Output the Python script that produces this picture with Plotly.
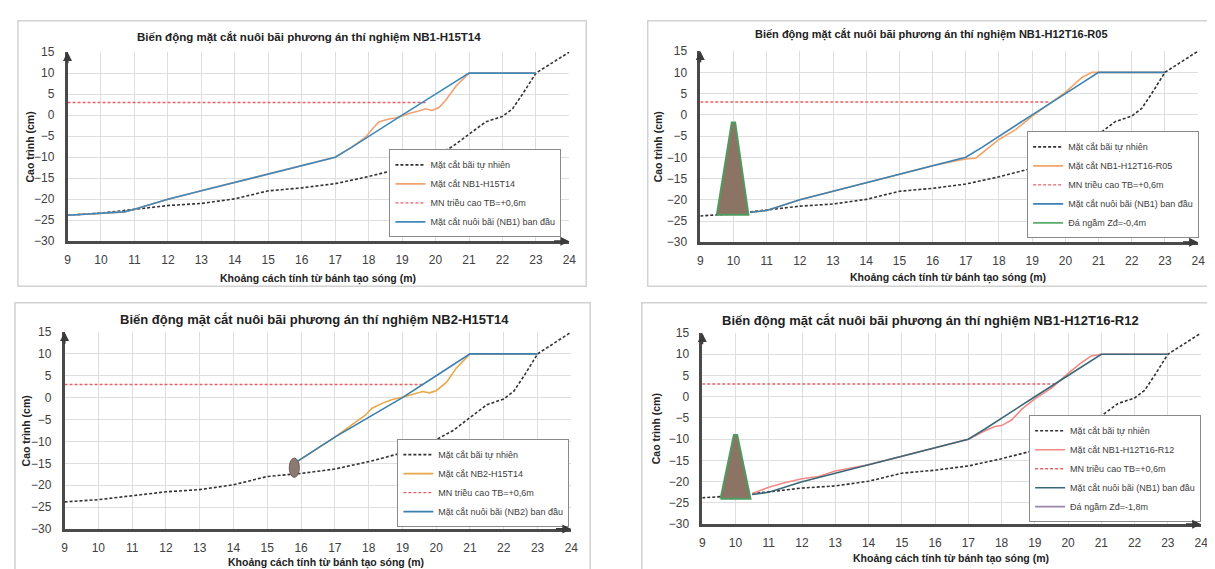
import plotly.graph_objects as go

# ---------------- data ----------------
x_ticks = list(range(9, 25))
y_ticks = list(range(-30, 16, 5))

titles = [
    "Biến động mặt cắt nuôi bãi phương án thí nghiệm NB1-H15T14",
    "Biến động mặt cắt nuôi bãi phương án thí nghiệm NB1-H12T16-R05",
    "Biến động mặt cắt nuôi bãi phương án thí nghiệm NB2-H15T14",
    "Biến động mặt cắt nuôi bãi phương án thí nghiệm NB1-H12T16-R12",
]
x_title = "Khoảng cách tính từ bánh tạo sóng (m)"
y_title = "Cao trình (cm)"

# natural beach profile (same in all tests)
nat_x = [9, 10, 11, 12, 13, 14, 15, 16, 17, 18, 19, 20, 20.5, 21, 21.5, 22, 22.3, 22.6, 22.9, 23, 23.5, 24]
nat_y = [-23.8, -23.3, -22.4, -21.5, -21, -19.9, -18, -17.3, -16.3, -14.6, -12.6, -9.6, -7.5, -4.5, -1.6, -0.3, 1.5, 5, 9, 10, 12.5, 15]

# initial nourished profile NB1
nb1_x = [9, 10, 10.7, 11, 12, 13, 14, 15, 16, 17, 17.5, 18, 19, 20, 21, 23]
nb1_y = [-23.8, -23.3, -23, -22.4, -20, -18, -16, -14, -12, -10, -7.6, -5, 0, 5, 10, 10]
# initial NB1 behind breakwater
nb1r_x = [10.5, 11, 12, 13, 14, 15, 16, 17, 17.5, 18, 19, 20, 21, 23]
nb1r_y = [-23, -22.5, -20, -18, -16, -14, -12, -10, -7.6, -5, 0, 5, 10, 10]
# initial nourished profile NB2
nb2_x = [15.8, 16, 17, 18, 19, 20, 21, 23]
nb2_y = [-15, -14, -9, -4.5, 0, 5, 10, 10]

# measured profiles
m1_x = [9, 10, 10.7, 11, 12, 13, 14, 15, 16, 17, 17.5, 17.9, 18.1, 18.3, 18.6, 18.8, 19, 19.2, 19.5, 19.7, 19.9, 20.1, 20.3, 20.6, 21, 23]
m1_y = [-23.8, -23.3, -23, -22.4, -20, -18, -16, -14, -12, -10, -7.6, -5.3, -3.4, -1.6, -0.9, -0.7, -0.2, 0.4, 1, 1.5, 1.1, 1.8, 3.5, 6.8, 10, 10]
m2_x = [10.5, 11, 12, 13, 14, 15, 16, 16.6, 17, 17.3, 17.8, 18, 18.5, 19, 19.5, 20, 20.5, 20.8, 21, 23]
m2_y = [-23, -22.5, -20, -18, -16, -14, -12, -11, -10.4, -10.2, -7, -5.8, -3.5, -0.3, 2.5, 5.3, 8.8, 10, 10, 10]
m3_x = [15.8, 16, 17, 17.9, 18.1, 18.4, 18.7, 19, 19.3, 19.6, 19.8, 20, 20.3, 20.6, 21, 23]
m3_y = [-15, -14, -9, -4, -2.4, -1.3, -0.4, 0.1, 0.8, 1.4, 1.1, 1.6, 3.5, 6.8, 10, 10]
m4_x = [10.5, 11, 11.5, 12, 12.5, 13, 14, 15, 16, 17, 17.5, 17.8, 18, 18.3, 18.6, 19, 19.5, 20, 20.4, 20.7, 21, 23]
m4_y = [-22.8, -21.3, -20.2, -19.3, -18.8, -17.5, -16, -14, -12, -10, -8, -7, -6.8, -5.5, -3, -0.5, 2, 5.5, 8, 9.6, 10, 10]

# mean high tide level
mn_y = 3
mn_end = [19.7, 19.5, 19.6, 19.6]

# submerged breakwaters
bw2_x = [9.5, 9.95, 10.05, 10.45, 9.5]
bw2_y = [-23.5, -1.8, -1.8, -23.5, -23.5]
bw4_x = [9.55, 9.95, 10.05, 10.45, 9.55]
bw4_y = [-24, -9, -9, -24, -24]
# NB2 toe structure (oval)
oval_x = [15.65, 15.95]
oval_y = [-18.2, -13.8]

leg_names = [
    ["Mặt cắt bãi tự nhiên", "Mặt cắt NB1-H15T14", "MN triều cao TB=+0,6m", "Mặt cắt nuôi bãi (NB1) ban đầu"],
    ["Mặt cắt bãi tự nhiên", "Mặt cắt NB1-H12T16-R05", "MN triều cao TB=+0,6m", "Mặt cắt nuôi bãi (NB1) ban đầu", "Đá ngầm Zđ=-0,4m"],
    ["Mặt cắt bãi tự nhiên", "Mặt cắt NB2-H15T14", "MN triều cao TB=+0,6m", "Mặt cắt nuôi bãi (NB2) ban đầu"],
    ["Mặt cắt bãi tự nhiên", "Mặt cắt NB1-H12T16-R12", "MN triều cao TB=+0,6m", "Mặt cắt nuôi bãi (NB1) ban đầu", "Đá ngầm Zđ=-1,8m"],
]

# ---------------- layout geometry (pixels) ----------------
W, H = 1215, 569
def PX(v): return v / W
def PY(v): return 1 - v / H

panels = [
    dict(x0=57, x1=563, y0=38, y1=232, box=(7, 6, 580, 278), title=(300, 23, 11.5), xt=(310, 270), yt=(19, 135),
         leg=(555, 228)),
    dict(x0=695, x1=1197, y0=37, y1=233, box=(642, 6, 1212, 278), title=(928, 20, 11), xt=(945, 269), yt=(652, 135),
         leg=(1198, 229)),
    dict(x0=54, x1=565, y0=325, y1=527, box=(4, 295, 584, 580), title=(306, 312, 13), xt=(318, 561), yt=(15, 426),
         leg=(563, 525)),
    dict(x0=697, x1=1200, y0=326, y1=522, box=(636, 295, 1212, 580), title=(927, 313, 13), xt=(948, 557), yt=(650, 424),
         leg=(1200, 520)),
]

FONT = "Liberation Sans, Arial, sans-serif"
c_nat = "#333333"
c_mn = "#e8606a"
meas_colors = ["#f2a072", "#f4a468", "#e8a84a", "#f08a86"]
init_colors = ["#3f88b8", "#3a82b4", "#3b7fae", "#3a6878"]
bw_leg_colors = [None, "#5aaa6a", None, "#9a86a8"]

fig = go.Figure()
meas = [(m1_x, m1_y), (m2_x, m2_y), (m3_x, m3_y), (m4_x, m4_y)]
inits = [(nb1_x, nb1_y), (nb1r_x, nb1r_y), (nb2_x, nb2_y), (nb1r_x, nb1r_y)]
bws = [None, (bw2_x, bw2_y), None, (bw4_x, bw4_y)]

annotations = []
shapes = []
for i, p in enumerate(panels):
    k = i + 1
    xa = "x" if k == 1 else f"x{k}"
    ya = "y" if k == 1 else f"y{k}"
    lg = "legend" if k == 1 else f"legend{k}"
    names = leg_names[i]
    fig.add_trace(go.Scatter(x=nat_x, y=nat_y, mode="lines", name=names[0], xaxis=xa, yaxis=ya, legend=lg,
                             line=dict(color=c_nat, width=1.6, dash="3px,2px")))
    fig.add_trace(go.Scatter(x=meas[i][0], y=meas[i][1], mode="lines", name=names[1], xaxis=xa, yaxis=ya, legend=lg,
                             line=dict(color=meas_colors[i], width=1.6)))
    fig.add_trace(go.Scatter(x=[9, mn_end[i]], y=[mn_y, mn_y], mode="lines", name=names[2], xaxis=xa, yaxis=ya, legend=lg,
                             line=dict(color=c_mn, width=1.4, dash="3px,2px")))
    fig.add_trace(go.Scatter(x=inits[i][0], y=inits[i][1], mode="lines", name=names[3], xaxis=xa, yaxis=ya, legend=lg,
                             line=dict(color=init_colors[i], width=1.6)))
    if bws[i] is not None:
        fig.add_trace(go.Scatter(x=bws[i][0], y=bws[i][1], mode="lines", fill="toself", fillcolor="#8c7464",
                                 line=dict(color="#4f9a5e", width=2), xaxis=xa, yaxis=ya, showlegend=False,
                                 hoverinfo="skip"))
        fig.add_trace(go.Scatter(x=[None], y=[None], mode="lines", name=names[4], xaxis=xa, yaxis=ya, legend=lg,
                                 line=dict(color=bw_leg_colors[i], width=1.8)))
    dom_x = [PX(p["x0"]), PX(p["x1"])]
    dom_y = [PY(p["y1"]), PY(p["y0"])]
    axx = dict(domain=dom_x, range=[9, 24], tickvals=x_ticks, showgrid=True, gridcolor="#dedede", gridwidth=1,
               showline=True, linecolor="#4a4a4a", linewidth=2.5, zeroline=False, anchor=ya,
               tickfont=dict(family=FONT, size=12, color="#404040"), ticks="", ticklabelstandoff=6,
               fixedrange=True)
    axy = dict(domain=dom_y, range=[-30, 15], tickvals=y_ticks, showgrid=True, gridcolor="#dedede", gridwidth=1,
               showline=True, linecolor="#4a4a4a", linewidth=2.5, zeroline=False, anchor=xa,
               tickfont=dict(family=FONT, size=12, color="#404040"), ticks="", ticklabelstandoff=8,
               fixedrange=True)
    fig.layout[("xaxis" if k == 1 else f"xaxis{k}")] = axx
    fig.layout[("yaxis" if k == 1 else f"yaxis{k}")] = axy
    fig.layout[lg] = dict(x=PX(p["leg"][0]), y=PY(p["leg"][1]), xanchor="right", yanchor="bottom",
                          bgcolor="white", bordercolor="#8a8a8a", borderwidth=1,
                          font=dict(family=FONT, size=9, color="#404040"), tracegroupgap=0,
                          itemwidth=30)
    # panel frame
    b = p["box"]
    shapes.append(dict(type="rect", xref="paper", yref="paper", x0=PX(b[0]), x1=PX(b[2]), y0=PY(b[3]), y1=PY(b[1]),
                       line=dict(color="#d2d2d2", width=1.5), fillcolor="rgba(0,0,0,0)", layer="below"))
    # titles
    t = p["title"]
    annotations.append(dict(text=f"<b>{titles[i]}</b>", x=PX(t[0]), y=PY(t[1]), xref="paper", yref="paper",
                            showarrow=False, xanchor="center", yanchor="middle",
                            font=dict(family=FONT, size=t[2], color="#222222")))
    annotations.append(dict(text=f"<b>{x_title}</b>", x=PX(p["xt"][0]), y=PY(p["xt"][1]), xref="paper", yref="paper",
                            showarrow=False, xanchor="center", yanchor="middle",
                            font=dict(family=FONT, size=10.5, color="#222222")))
    annotations.append(dict(text=f"<b>{y_title}</b>", x=PX(p["yt"][0]), y=PY(p["yt"][1]), xref="paper", yref="paper",
                            showarrow=False, xanchor="center", yanchor="middle", textangle=-90,
                            font=dict(family=FONT, size=10.5, color="#222222")))
    # axis arrows
    annotations.append(dict(x=24, y=-30, ax=23.5, ay=-30, xref=xa, yref=ya, axref=xa, ayref=ya, text="",
                            showarrow=True, arrowhead=2, arrowsize=0.9, arrowwidth=2, arrowcolor="#3a3a3a"))
    annotations.append(dict(x=9, y=15, ax=9, ay=12, xref=xa, yref=ya, axref=xa, ayref=ya, text="",
                            showarrow=True, arrowhead=2, arrowsize=0.9, arrowwidth=2, arrowcolor="#3a3a3a"))

# NB2 toe structure
shapes.append(dict(type="circle", xref="x3", yref="y3", x0=oval_x[0], x1=oval_x[1], y0=oval_y[0], y1=oval_y[1],
                   fillcolor="#8a7a72", line=dict(color="#6e5e58", width=1)))

fig.update_layout(width=W, height=H, margin=dict(l=0, r=0, t=0, b=0), paper_bgcolor="white",
                  plot_bgcolor="white", annotations=annotations, shapes=shapes, showlegend=True)

fig.write_html("out.html")
